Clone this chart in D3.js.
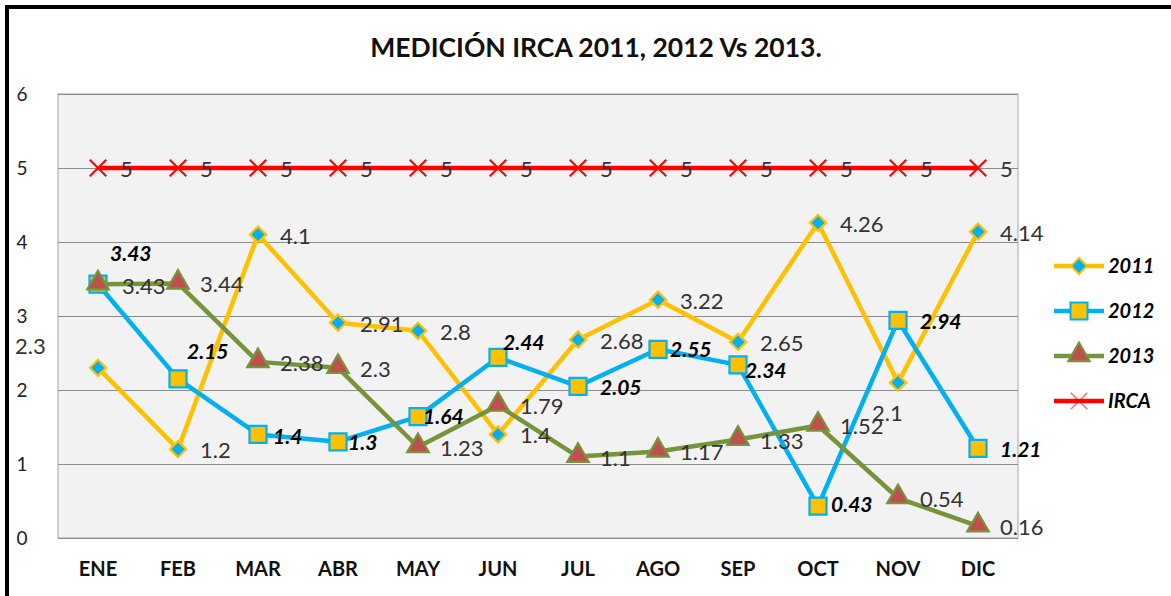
<!DOCTYPE html>
<html>
<head>
<meta charset="utf-8">
<script src="https://cdn.jsdelivr.net/npm/d3@7"></script>
<style>
  body { margin: 0; background: #fff; }
  svg { display: block; font-family: Lato, "Open Sans", sans-serif; }
</style>
</head>
<body>
<div id="chart"></div>
<script>
var months = ["ENE", "FEB", "MAR", "ABR", "MAY", "JUN", "JUL", "AGO", "SEP", "OCT", "NOV", "DIC"];
var yTicks = [0, 1, 2, 3, 4, 5, 6];

var irca2011 = [2.3, 1.2, 4.1, 2.91, 2.8, 1.4, 2.68, 3.22, 2.65, 4.26, 2.1, 4.14];
var irca2012 = [3.43, 2.15, 1.4, 1.3, 1.64, 2.44, 2.05, 2.55, 2.34, 0.43, 2.94, 1.21];
var irca2013 = [3.43, 3.44, 2.38, 2.3, 1.23, 1.79, 1.1, 1.17, 1.33, 1.52, 0.54, 0.16];
var ircaLimit = [5, 5, 5, 5, 5, 5, 5, 5, 5, 5, 5, 5];

var seriesNames = ["2011", "2012", "2013", "IRCA"];

/* label nudges (pixels) where the default "right of the point" placement was moved by hand */
var nudge2011 = { 0: [-83, -22], 10: [-26, 30] };
var nudge2012 = { 0: [12, -31], 1: [9, -27], 2: [15, 2], 3: [10, 1], 4: [5, 0], 5: [5, -15],
                  7: [12, 0], 8: [7, 6], 9: [13, -2] };
var nudge2013 = { 0: [24, 2] };

var width = 1171, height = 596;
var margins = {top: 94, bottom: 58, left: 58, right: 153};

var svg = d3.select("#chart").append("svg")
    .attr("width", width)
    .attr("height", height);

/* outer frame */
svg.append("rect")
    .attr("x", 7).attr("y", 7)
    .attr("width", width + 20).attr("height", height + 20)
    .attr("fill", "#fff")
    .attr("stroke", "#000")
    .attr("stroke-width", 4);

svg.append("text")
    .attr("x", 596).attr("y", 57)
    .attr("text-anchor", "middle")
    .attr("font-weight", "bold")
    .attr("font-size", 26.5)
    .attr("fill", "#111")
    .text("MEDICIÓN IRCA 2011, 2012 Vs 2013.");

var plotW = width - margins.left - margins.right,
    plotH = height - margins.top - margins.bottom;

var main = svg.append("g")
    .attr("transform", "translate(" + margins.left + "," + margins.top + ")");

var x = d3.scaleBand().domain(months).range([0, plotW]);
var y = d3.scaleLinear().domain([0, 6]).range([plotH, 0]);
function cx(i) { return x(months[i]) + x.bandwidth() / 2; }

main.append("rect")
    .attr("width", plotW).attr("height", plotH)
    .attr("fill", "#f2f2f2")
    .attr("stroke", "#a6a6a6");

/* y axis with grid lines */
var yAxis = d3.axisLeft(y).tickValues(yTicks).tickFormat(d3.format("d")).tickSize(-plotW).tickPadding(36);
main.append("g").attr("class", "yAxis").call(yAxis)
    .call(function(g){
        g.select(".domain").remove();
        g.selectAll("line").attr("stroke", "#8c8c8c").attr("stroke-width", 1);
        g.selectAll("text").attr("font-size", 19).attr("fill", "#222")
            .attr("font-family", "Lato, sans-serif").attr("text-anchor", "middle").attr("dy", "0.35em");
    });

var xAxis = d3.axisBottom(x).tickSize(0).tickPadding(24);
main.append("g").attr("transform", "translate(0," + plotH + ")").call(xAxis)
    .call(function(g){
        g.select(".domain").remove();
        g.selectAll("text").attr("font-size", 20).attr("font-weight", "bold").attr("fill", "#111")
            .attr("font-family", "Lato, sans-serif").attr("dy", "0.72em");
    });

var sym = {
    diamond: d3.symbol(d3.symbolSquare, 130)(),
    square: d3.symbol(d3.symbolSquare, 290)(),
    triangle: d3.symbol(d3.symbolTriangle, 200)(),
    times: (d3.symbolTimes ? d3.symbol(d3.symbolTimes, 180)() : d3.symbol(d3.symbolCross, 180)())
};

var series = [
    {name: "2011", values: irca2011, line: "#ffc000", marker: sym.diamond, rot: 45, fill: "#00b0f0", stroke: "#ffc000",
     nudge: nudge2011, italic: false},
    {name: "2012", values: irca2012, line: "#00b0f0", marker: sym.square, rot: 0, fill: "#ffc000", stroke: "#00b0f0",
     nudge: nudge2012, italic: true},
    {name: "2013", values: irca2013, line: "#77933c", marker: sym.triangle, rot: 0, fill: "#c0504d", stroke: "#77933c",
     nudge: nudge2013, italic: false},
    {name: "IRCA", values: ircaLimit, line: "#ff0000", marker: sym.times, rot: 0, fill: "none", stroke: "#ff0000",
     nudge: {}, italic: false}
];

var line = d3.line()
    .x(function(d, i){ return cx(i); })
    .y(function(d){ return y(d); });

series.forEach(function(s){
    var g = main.append("g").attr("class", "series");
    g.append("path")
        .attr("d", line(s.values))
        .attr("fill", "none")
        .attr("stroke", s.line)
        .attr("stroke-width", 4.5)
        .attr("stroke-linejoin", "round");
    g.selectAll(".marker")
        .data(s.values)
        .enter()
        .append("path")
            .attr("class", "marker")
            .attr("d", s.marker)
            .attr("transform", function(d, i){
                var t = "translate(" + cx(i) + "," + y(d) + ")";
                if (s.marker === sym.triangle) t += " translate(0,-1)";
                return t + (s.rot ? " rotate(" + s.rot + ")" : "");
            })
            .attr("fill", s.fill)
            .attr("stroke", s.stroke)
            .attr("stroke-width", s.name === "IRCA" ? 2 : 2.2);
});

/* data labels on top */
series.forEach(function(s){
    main.append("g").selectAll("text")
        .data(s.values)
        .enter()
        .append("text")
            .attr("x", function(d, i){ return cx(i) + (s.nudge[i] ? s.nudge[i][0] : 22); })
            .attr("y", function(d, i){ return y(d) + (s.nudge[i] ? s.nudge[i][1] : 1); })
            .attr("dy", "0.36em")
            .attr("font-size", s.italic ? 21 : 22)
            .attr("font-weight", s.italic ? "bold" : "normal")
            .attr("font-style", s.italic ? "italic" : "normal")
            .attr("fill", s.italic ? "#000" : "#333")
            .text(function(d){ return d; });
});

/* legend */
var legend = svg.append("g").attr("transform", "translate(1054,266)");
series.forEach(function(s, k){
    var row = legend.append("g").attr("transform", "translate(0," + (k * 45) + ")");
    row.append("line")
        .attr("x1", 0).attr("x2", 50)
        .attr("stroke", s.line).attr("stroke-width", 4.5);
    row.append("path")
        .attr("d", s.marker)
        .attr("transform", "translate(25," + (s.marker === sym.triangle ? -1 : 0) + ")" + (s.rot ? " rotate(" + s.rot + ")" : ""))
        .attr("fill", s.fill)
        .attr("stroke", s.stroke)
        .attr("stroke-width", s.name === "IRCA" ? 1.5 : 2)
        .attr("opacity", s.name === "IRCA" ? 0.55 : 1);
    row.append("text")
        .attr("x", 54).attr("dy", "0.36em")
        .attr("font-size", 20)
        .attr("font-weight", "bold")
        .attr("font-style", "italic")
        .attr("fill", "#000")
        .text(s.name);
});
</script>
</body>
</html>
